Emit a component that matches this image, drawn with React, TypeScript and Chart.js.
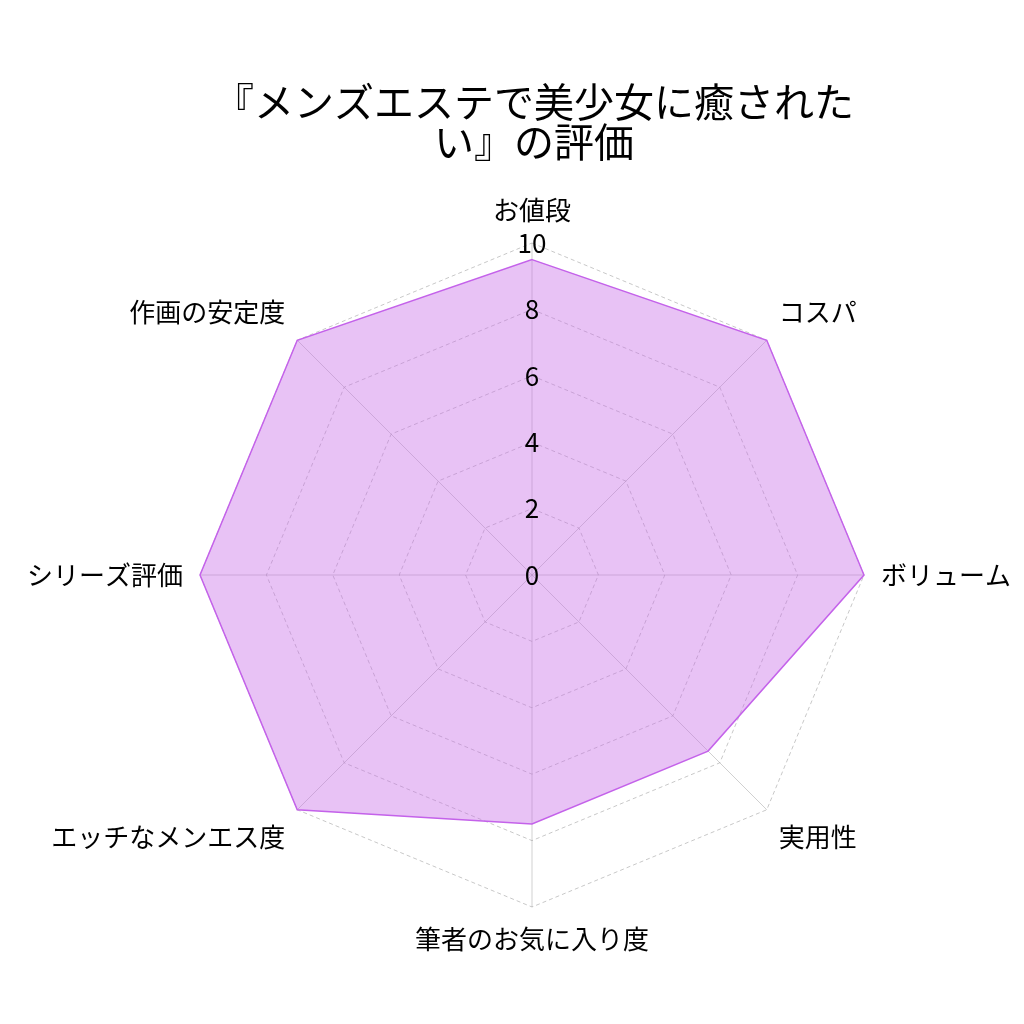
import React, { useEffect, useRef } from "react";
import { Chart, registerables } from "chart.js";

Chart.register(...registerables);

const titleLines = ["『メンズエステで美少女に癒された", "い』の評価"];
const categories = [
  "お値段",
  "コスパ",
  "ボリューム",
  "実用性",
  "筆者のお気に入り度",
  "エッチなメンエス度",
  "シリーズ評価",
  "作画の安定度",
];
const scores = [9.5, 10, 10, 7.5, 7.5, 10, 10, 10];
const tickValues = [0, 2, 4, 6, 8, 10];

const FONT = "'Noto Sans CJK JP', 'Noto Sans', sans-serif";

export default function App() {
  const ref = useRef<HTMLCanvasElement | null>(null);
  useEffect(() => {
    if (!ref.current) return;
    const chart = new Chart(ref.current, {
      type: "radar",
      data: {
        labels: categories,
        datasets: [
          {
            data: scores,
            backgroundColor: "rgba(200, 110, 230, 0.42)",
            borderColor: "#c462ea",
            borderWidth: 1.5,
            pointRadius: 0,
            fill: true,
          },
        ],
      },
      options: {
        responsive: false,
        animation: false,
        layout: { padding: { top: 0, left: 14, right: -30, bottom: 50 } },
        plugins: {
          legend: { display: false },
          tooltip: { enabled: false },
          title: {
            display: true,
            text: titleLines,
            color: "#000",
            font: { family: FONT, size: 40, weight: "normal", lineHeight: 1.0 },
            padding: { top: 82, bottom: 16 },
          },
        },
        scales: {
          r: {
            min: -0.0001,
            max: 10,
            afterBuildTicks: (axis: any) => {
              axis.ticks = tickValues.map((v) => ({ value: v }));
            },
            ticks: {
              showLabelBackdrop: false,
              color: "#000",
              font: { family: FONT, size: 26 },
              z: 1,
            },
            grid: {
              color: "#c8c8c8",
              lineWidth: 1,
            },
            border: { dash: [4, 3] } as any,
            angleLines: { color: "rgba(150,150,150,0.45)", lineWidth: 1 },
            pointLabels: {
              color: "#000",
              font: { family: FONT, size: 26 },
              padding: 2,
            },
          },
        },
      },
    });
    return () => chart.destroy();
  }, []);
  return (
    <div style={{ position: "fixed", left: 0, top: 0, width: 1024, height: 1024, background: "#fff" }}>
      <canvas ref={ref} width={1024} height={1024} style={{ width: 1024, height: 1024 }} />
    </div>
  );
}
